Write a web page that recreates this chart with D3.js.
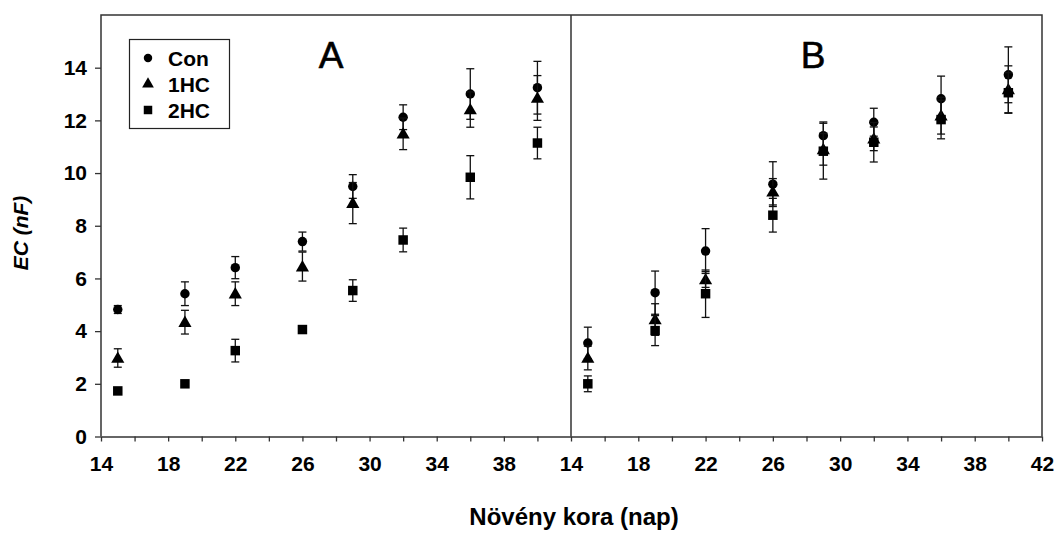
<!DOCTYPE html>
<html>
<head>
<meta charset="utf-8">
<script src="https://cdn.jsdelivr.net/npm/d3@7"></script>
<style>
    body { margin: 0; background: #fff; }
    text { font-family: 'Liberation Sans', Arial, sans-serif; }
    .tick text { font-size: 21px; font-weight: bold; fill: #000; }
    .tick line { stroke: #333; stroke-width: 1.3; }
</style>
</head>
<body>
<div id="chart-container"></div>
<script>
const days = [15, 19, 22, 26, 29, 32, 36, 40];
const seriesNames = ['Con', '1HC', '2HC'];
const panelLabels = ['A', 'B'];

// panel A
const conA = [4.82, 5.42, 6.41, 7.4, 9.49, 12.12, 13.0, 13.24];
const conAErr = [0.15, 0.45, 0.42, 0.36, 0.45, 0.47, 0.96, 1.0];
const hc1A = [2.98, 4.34, 5.42, 6.45, 8.86, 11.49, 12.41, 12.85];
const hc1AErr = [0.35, 0.45, 0.45, 0.55, 0.78, 0.6, 0.67, 0.85];
const hc2A = [1.73, 2.0, 3.26, 4.06, 5.54, 7.46, 9.84, 11.14];
const hc2AErr = [0.08, 0.08, 0.43, 0.12, 0.41, 0.45, 0.82, 0.6];

// panel B
const conB = [3.55, 5.46, 7.04, 9.58, 11.42, 11.93, 12.82, 13.73];
const conBErr = [0.6, 0.82, 0.85, 0.85, 0.52, 0.53, 0.86, 1.06];
const hc1B = [2.98, 4.44, 5.96, 9.29, 10.9, 11.3, 12.18, 13.17];
const hc1BErr = [0.45, 0.6, 0.3, 0.5, 0.6, 0.45, 0.7, 0.9];
const hc2B = [2.0, 4.02, 5.42, 8.4, 10.83, 11.17, 12.03, 13.05];
const hc2BErr = [0.3, 0.57, 0.9, 0.64, 1.06, 0.75, 0.73, 0.76];

const xTicks = d3.range(14, 43, 2);
const yTicks = d3.range(0, 15, 2);

const width = 1054;
const height = 535;
const LEFT = 101, MID = 571, RIGHT = 1042, TOP = 15, BOTTOM = 436.5;
const CAP = 4;

const panels = [
    { x0: LEFT, x1: MID, series: [[conA, conAErr], [hc1A, hc1AErr], [hc2A, hc2AErr]], lastLabel: false },
    { x0: MID, x1: RIGHT, series: [[conB, conBErr], [hc1B, hc1BErr], [hc2B, hc2BErr]], lastLabel: true },
];

const symbols = [d3.symbolCircle, d3.symbolTriangle, d3.symbolSquare];
const symbolSizes = [70, 75, 90];

const svg = d3
    .select('#chart-container')
    .append('svg')
    .attr('width', width)
    .attr('height', height);

const y = d3.scaleLinear().domain([0, 16]).range([BOTTOM, TOP]);

panels.forEach((p, pi) => {
    const x = d3.scaleLinear().domain([14, 42]).range([p.x0, p.x1]);

    svg.append('g')
        .attr('transform', `translate(0,${BOTTOM})`)
        .call(
            d3
                .axisBottom(x)
                .tickValues(pi === 0 ? xTicks.slice(0, -1) : xTicks)
                .tickSize(5)
                .tickSizeOuter(0)
                .tickPadding(15)
                .tickFormat((d) => ((d - 14) % 4 === 0 && (d < 42 || p.lastLabel) ? d : '')),
        )
        .call((g) => g.select('.domain').attr('stroke', '#333').attr('stroke-width', 1.5));

    const g = svg.append('g');
    p.series.forEach(([vals, errs], si) => {
        const pts = days.map((d, i) => ({ d, v: vals[i], e: errs[i] }));
        const eb = g.append('g').attr('stroke', '#111').attr('stroke-width', 1.3);
        pts.forEach((pt) => {
            const cx = x(pt.d);
            const yt = y(pt.v + pt.e), yb = y(pt.v - pt.e);
            eb.append('line').attr('x1', cx).attr('x2', cx).attr('y1', yt).attr('y2', yb);
            eb.append('line').attr('x1', cx - CAP).attr('x2', cx + CAP).attr('y1', yt).attr('y2', yt);
            eb.append('line').attr('x1', cx - CAP).attr('x2', cx + CAP).attr('y1', yb).attr('y2', yb);
        });
        g.append('g')
            .selectAll('path')
            .data(pts)
            .join('path')
            .attr('transform', (d) => `translate(${x(d.d)},${y(d.v) + (si === 1 ? 1 : 0)})`)
            .attr('d', d3.symbol(symbols[si], symbolSizes[si]))
            .attr('fill', '#000');
    });

    svg.append('text')
        .attr('x', pi === 0 ? 331 : 813)
        .attr('y', 68)
        .attr('text-anchor', 'middle')
        .attr('font-size', 37)
        .attr('stroke', '#000').attr('stroke-width', 0.6)
        .text(panelLabels[pi]);
});

// y axis on the left panel only
svg.append('g')
    .attr('transform', `translate(${LEFT},0)`)
    .call(d3.axisLeft(y).tickValues(yTicks).tickSize(6).tickSizeOuter(0).tickPadding(8))
    .call((g) => g.select('.domain').remove());

// frame
svg.append('path')
    .attr('d', `M${LEFT},${BOTTOM}V${TOP}H${RIGHT}V${BOTTOM}M${MID},${TOP}V${BOTTOM}`)
    .attr('fill', 'none')
    .attr('stroke', '#333')
    .attr('stroke-width', 1.5);

// legend
const legend = svg.append('g');
legend.append('rect')
    .attr('x', 129.5).attr('y', 39.5).attr('width', 100).attr('height', 89)
    .attr('fill', '#fff').attr('stroke', '#222').attr('stroke-width', 1.2);
seriesNames.forEach((name, i) => {
    const ly = 58 + i * 26;
    legend.append('path')
        .attr('transform', `translate(148,${ly})`)
        .attr('d', d3.symbol(symbols[i], symbolSizes[i] * 0.8))
        .attr('fill', '#000');
    legend.append('text')
        .attr('x', 168).attr('y', ly + 7.5)
        .attr('font-size', 21).attr('font-weight', 'bold')
        .text(name);
});

svg.append('text')
    .attr('x', 574).attr('y', 525)
    .attr('text-anchor', 'middle')
    .attr('font-size', 24).attr('font-weight', 'bold')
    .text('Növény kora (nap)');

svg.append('text')
    .attr('transform', 'translate(28,233) rotate(-90)')
    .attr('text-anchor', 'middle')
    .attr('font-size', 21).attr('font-weight', 'bold').attr('font-style', 'italic')
    .text('EC (nF)');
</script>
</body>
</html>
